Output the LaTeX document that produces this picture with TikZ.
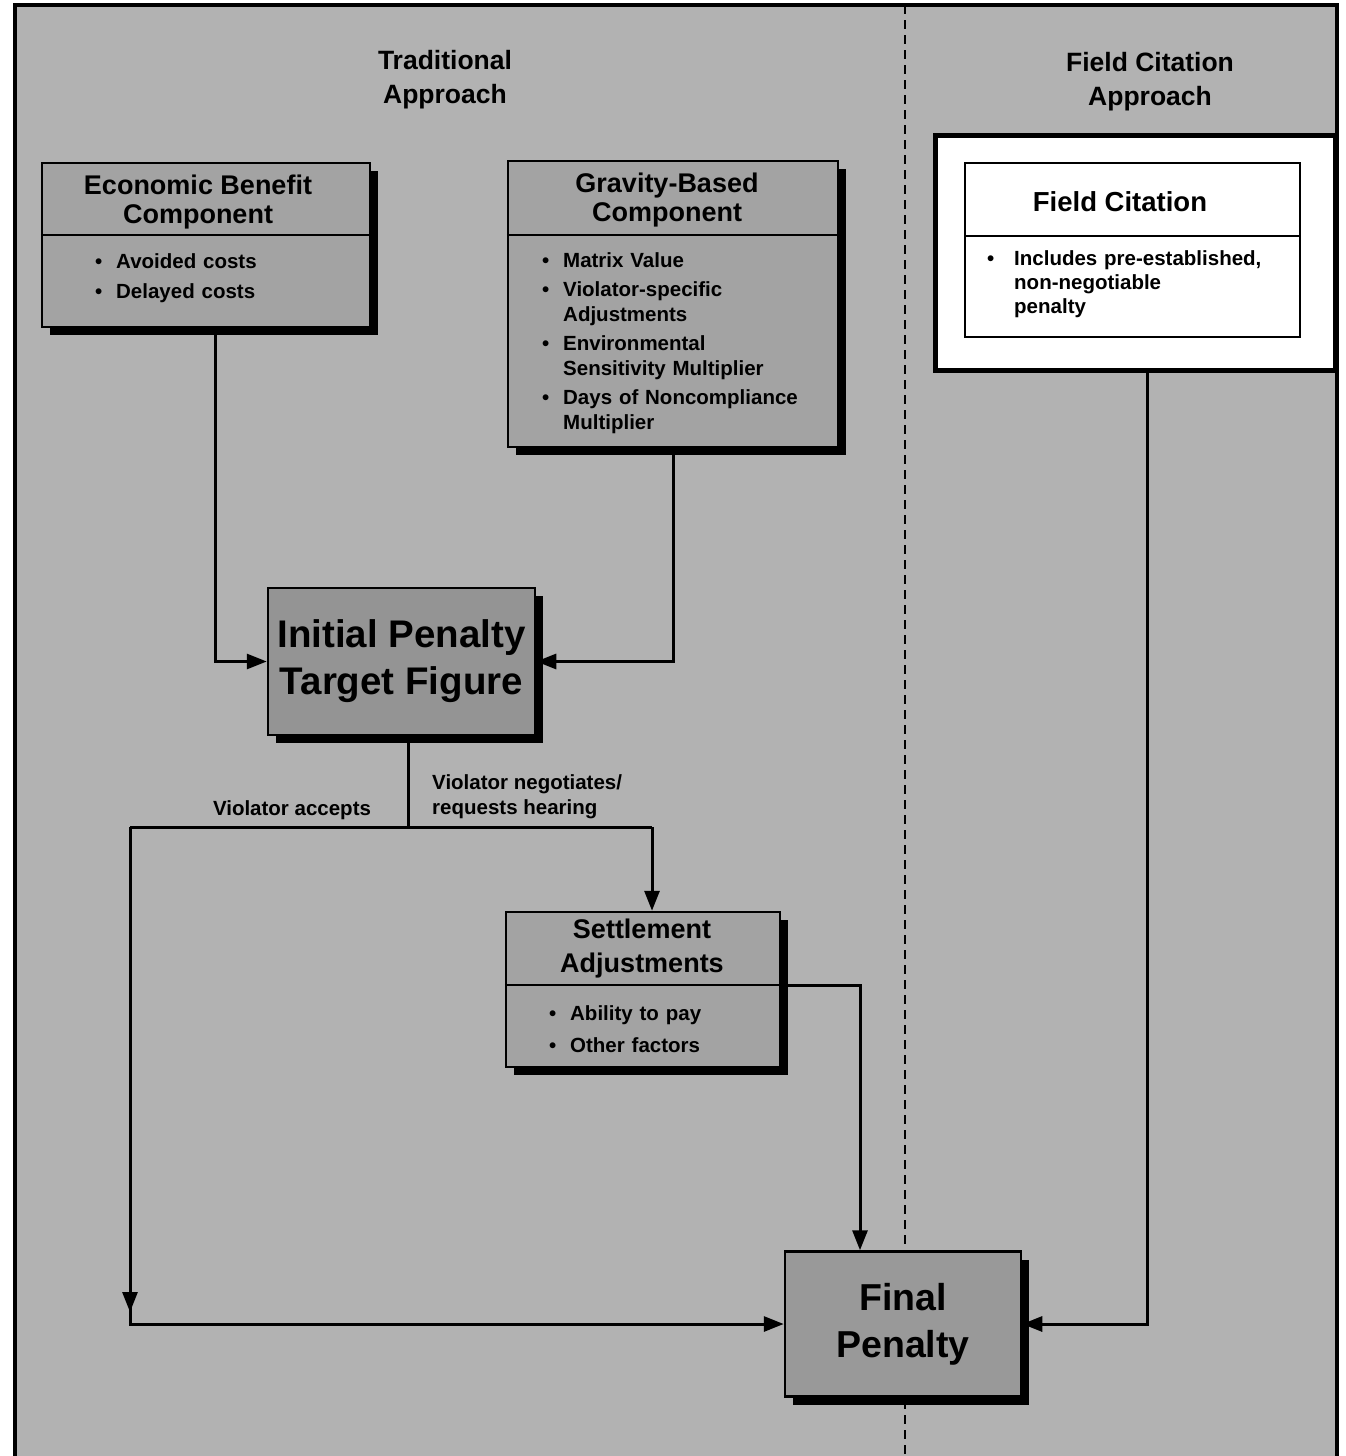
\documentclass[tikz,border=0pt]{standalone}
\usepackage{fontspec}
\setmainfont{Liberation Sans}
\usetikzlibrary{arrows.meta,shadows,calc}
\newcommand\bul[2][21pt]{\par\noindent\hangindent=#1\hangafter=1\makebox[#1][l]{\textbullet}#2}
\begin{document}
\begin{tikzpicture}[x=1pt,y=-1pt,
  box/.style={draw=black, line width=2.5pt, fill=black!36, inner sep=0pt,
    drop shadow={shadow xshift=8pt,shadow yshift=-8pt,fill=black,opacity=1}},
  ttl/.style={font=\fontsize{27}{31}\selectfont\bfseries, align=center, inner sep=0pt},
  big/.style={font=\fontsize{38.5}{47}\selectfont\bfseries, align=center, inner sep=0pt},
  blist/.style={inner sep=0pt, anchor=north west},
  lbl/.style={font=\fontsize{20.5}{25}\selectfont\bfseries, align=left, inner sep=0pt},
  divl/.style={line width=2.5pt},
  arr/.style={line width=3pt, -{Triangle[length=20pt,width=15pt]}},
  ln/.style={line width=3pt}
]
\useasboundingbox (0,0) rectangle (1346,1456);
\fill[white] (0,0) rectangle (1346,1456);
\fill[black!30] (15,5) rectangle (1337,1456);
\draw[line width=4pt] (15,1456) -- (15,5) -- (1337,5) -- (1337,1456);
\draw[line width=2.5pt, dash pattern=on 9pt off 6pt] (905,5) -- (905,1456);

% titles
\node[ttl, font=\fontsize{26.5}{34}\selectfont\bfseries] (t1) at (445,80) {Traditional\\Approach};
\node[ttl, font=\fontsize{26.5}{34}\selectfont\bfseries] (t2) at (1150,82) {Field Citation\\Approach};

% Economic Benefit
\node[box, minimum width=328pt, minimum height=164pt] (econ) at (206,245) {};
\draw[divl] (econ.west |- 0,235) -- (econ.east |- 0,235);
\node[ttl, font=\fontsize{27}{29}\selectfont\bfseries] (econh) at (198,202) {Economic Benefit\\Component};
\node[blist, text width=260pt, font=\fontsize{20.5}{30}\selectfont\bfseries] (econb) at (95,238)
  {\bul{Avoided costs}\bul{Delayed costs}\par};

% Gravity-Based
\node[box, minimum width=330pt, minimum height=286pt] (grav) at (673,304) {};
\draw[divl] (grav.west |- 0,235) -- (grav.east |- 0,235);
\node[ttl, font=\fontsize{27}{29}\selectfont\bfseries] (gravh) at (667,200) {Gravity-Based\\Component};
\node[blist, text width=290pt, font=\fontsize{20.5}{25}\selectfont\bfseries] (gravb) at (542,238)
  {\setlength{\parskip}{4pt}\bul{Matrix Value}\bul{Violator-specific\newline Adjustments}\bul{Environmental\newline Sensitivity Multiplier}\bul{Days of Noncompliance\newline Multiplier}\par};

% Field Citation
\node[draw=black, line width=5pt, fill=white, minimum width=400pt, minimum height=235pt, inner sep=0pt] (field) at (1135,252.5) {};
\node[draw=black, line width=2pt, fill=white, minimum width=335pt, minimum height=174pt, inner sep=0pt] (fieldi) at (1132.5,250) {};
\draw[line width=2pt] (fieldi.west |- 0,236) -- (fieldi.east |- 0,236);
\node[ttl, font=\fontsize{27.5}{31}\selectfont\bfseries] (fieldh) at (1120,202) {Field Citation};
\node[blist, text width=300pt, font=\fontsize{20.5}{24}\selectfont\bfseries] (fieldb) at (987,241)
  {\bul[27pt]{Includes pre-established,\newline non-negotiable\newline penalty}\par};

% Initial Penalty
\node[box, fill=black!42, minimum width=267pt, minimum height=147pt, big] (init) at (401.5,661.5) {Initial Penalty\\Target Figure};

% Settlement
\node[box, minimum width=274pt, minimum height=155pt] (settle) at (643,989.5) {};
\draw[divl] (settle.west |- 0,985) -- (settle.east |- 0,985);
\node[ttl, font=\fontsize{27}{34}\selectfont\bfseries] (settleh) at (642,949) {Settlement\\Adjustments};
\node[blist, text width=220pt, font=\fontsize{20.5}{32}\selectfont\bfseries] (settleb) at (549,988)
  {\bul{Ability to pay}\bul{Other factors}\par};

% Final Penalty
\node[box, fill=black!40, minimum width=236pt, minimum height=145pt, big, font=\fontsize{37.5}{47}\selectfont\bfseries] (final) at (903,1324) {Final\\Penalty};

% labels
\node[lbl] (acc) at (292,810) {Violator accepts};
\node[lbl, anchor=west] (neg) at (432,797) {Violator negotiates/\\requests hearing};

% connectors
\coordinate (split) at (408,827);
\coordinate (spl) at (130,827);
\coordinate (spr) at (652,827);
\coordinate (lowl) at (130,1312);
\draw[arr] (215,0 |- econ.south) |- (init.west);
\draw[arr] (grav.south) |- (init.east);
\draw[ln] (408,0 |- init.south) -- (split);
\draw[ln] (spl) -- (spr);
\draw[arr] (spr) -- (652,0 |- settle.north);
\draw[arr] (spl) -- (lowl);
\draw[arr] (130,1300) |- (final.west);
\draw[arr] (settle.east |- 0,985) -| (860,0 |- final.north);
\draw[arr] (1147,0 |- field.south) |- (final.east);
\end{tikzpicture}
\end{document}
